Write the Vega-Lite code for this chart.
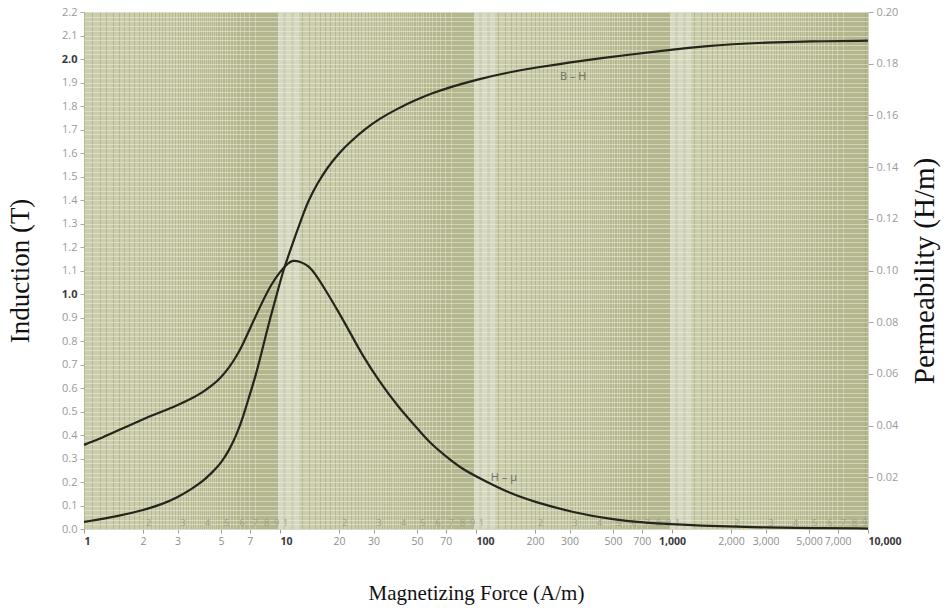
{
  "$schema": "https://vega.github.io/schema/vega-lite/v6.json",
  "width": 784,
  "height": 517,
  "autosize": {"type": "none"},
  "padding": {"left": 84, "top": 12, "right": 78, "bottom": 86},
  "background": "white",
  "config": {"view": {"fill": "#cbcdad", "stroke": null}, "font": "Open Sans"},
  "datasets": {
    "bh": [
      {"H": 1, "B": 0.03}, {"H": 1.5, "B": 0.055}, {"H": 2, "B": 0.08}, {"H": 2.5, "B": 0.105},
      {"H": 3, "B": 0.135}, {"H": 3.5, "B": 0.168}, {"H": 4, "B": 0.2}, {"H": 4.5, "B": 0.24},
      {"H": 5, "B": 0.28}, {"H": 5.5, "B": 0.335}, {"H": 6, "B": 0.4}, {"H": 6.5, "B": 0.48},
      {"H": 7, "B": 0.57}, {"H": 7.5, "B": 0.65}, {"H": 8, "B": 0.74}, {"H": 8.5, "B": 0.83},
      {"H": 9, "B": 0.91}, {"H": 9.5, "B": 0.98}, {"H": 10, "B": 1.05}, {"H": 10.5, "B": 1.11},
      {"H": 11, "B": 1.16}, {"H": 12, "B": 1.25}, {"H": 13, "B": 1.33}, {"H": 14, "B": 1.4},
      {"H": 15.5, "B": 1.47}, {"H": 17.5, "B": 1.54}, {"H": 20, "B": 1.6}, {"H": 23, "B": 1.65},
      {"H": 27, "B": 1.7}, {"H": 32, "B": 1.745}, {"H": 40, "B": 1.79}, {"H": 50, "B": 1.828},
      {"H": 60, "B": 1.855}, {"H": 75, "B": 1.882}, {"H": 100, "B": 1.912}, {"H": 150, "B": 1.945},
      {"H": 200, "B": 1.963}, {"H": 300, "B": 1.985}, {"H": 430, "B": 2.003}, {"H": 600, "B": 2.018},
      {"H": 1000, "B": 2.04}, {"H": 1500, "B": 2.055}, {"H": 2000, "B": 2.063}, {"H": 3000, "B": 2.07},
      {"H": 5000, "B": 2.075}, {"H": 10000, "B": 2.078}
    ],
    "hmu": [
      {"H": 1, "mu": 0.03255}, {"H": 1.25, "mu": 0.03545}, {"H": 1.5, "mu": 0.03818}, {"H": 2, "mu": 0.04255},
      {"H": 2.5, "mu": 0.04545}, {"H": 3, "mu": 0.04791}, {"H": 3.5, "mu": 0.05027}, {"H": 4, "mu": 0.05273},
      {"H": 4.5, "mu": 0.05545}, {"H": 5, "mu": 0.05864}, {"H": 5.5, "mu": 0.06245}, {"H": 6, "mu": 0.06682},
      {"H": 6.5, "mu": 0.07182}, {"H": 7, "mu": 0.07727}, {"H": 8, "mu": 0.08682}, {"H": 9, "mu": 0.09455},
      {"H": 10, "mu": 0.09955}, {"H": 11, "mu": 0.10291}, {"H": 11.6, "mu": 0.10391}, {"H": 12.5, "mu": 0.10364},
      {"H": 14, "mu": 0.10182}, {"H": 15, "mu": 0.09909}, {"H": 17, "mu": 0.09273}, {"H": 20, "mu": 0.08364},
      {"H": 23, "mu": 0.07545}, {"H": 26.5, "mu": 0.06682}, {"H": 32, "mu": 0.05727}, {"H": 40, "mu": 0.04727},
      {"H": 50, "mu": 0.03909}, {"H": 58, "mu": 0.03336}, {"H": 70, "mu": 0.02818}, {"H": 85, "mu": 0.02318},
      {"H": 105, "mu": 0.01955}, {"H": 150, "mu": 0.01364}, {"H": 200, "mu": 0.01045}, {"H": 313, "mu": 0.00636},
      {"H": 500, "mu": 0.00364}, {"H": 700, "mu": 0.00255}, {"H": 1100, "mu": 0.00164}, {"H": 2000, "mu": 0.00091},
      {"H": 3000, "mu": 0.00064}, {"H": 5000, "mu": 0.00036}, {"H": 10000, "mu": 0.00018}
    ],
    "minor": [
      {"H": 2, "k": "2"}, {"H": 3, "k": "3"}, {"H": 4, "k": "4"}, {"H": 5, "k": "5"}, {"H": 6, "k": "6"}, {"H": 7, "k": "7"}, {"H": 8, "k": "8"}, {"H": 9, "k": "9"},
      {"H": 10, "k": "1"}, {"H": 20, "k": "2"}, {"H": 30, "k": "3"}, {"H": 40, "k": "4"}, {"H": 50, "k": "5"}, {"H": 60, "k": "6"}, {"H": 70, "k": "7"}, {"H": 80, "k": "8"}, {"H": 90, "k": "9"},
      {"H": 100, "k": "1"}, {"H": 200, "k": "2"}, {"H": 300, "k": "3"}, {"H": 400, "k": "4"}, {"H": 500, "k": "5"}, {"H": 600, "k": "6"}, {"H": 700, "k": "7"}, {"H": 800, "k": "8"}, {"H": 900, "k": "9"},
      {"H": 1000, "k": "1"}, {"H": 2000, "k": "2"}, {"H": 3000, "k": "3"}, {"H": 4000, "k": "4"}, {"H": 5000, "k": "5"}, {"H": 6000, "k": "6"}, {"H": 7000, "k": "7"}, {"H": 8000, "k": "8"}, {"H": 9000, "k": "9"}
    ],
    "bhlabel": [{"H": 268, "B": 1.923, "t": "B – H"}],
    "mulabel": [{"H": 119, "mu": 0.01977, "t": "H – μ"}]
  },
  "layer": [
    {
      "layer": [
        {
          "data": {"name": "minor"},
          "mark": {"type": "text", "align": "left", "baseline": "bottom", "dx": 3, "dy": -1, "fontSize": 9, "color": "#9d9d8c"},
          "encoding": {
            "x": {"field": "H", "type": "quantitative"},
            "y": {"datum": 0, "type": "quantitative"},
            "text": {"field": "k", "type": "nominal"}
          }
        },
        {
          "data": {"name": "bh"},
          "mark": {"type": "line", "color": "#25251c", "strokeWidth": 2.2, "interpolate": "basis"},
          "encoding": {
            "x": {
              "field": "H", "type": "quantitative",
              "scale": {"type": "log", "domain": [1, 10000], "nice": false},
              "axis": {
                "title": "Magnetizing Force (A/m)",
                "titleFont": "Liberation Serif", "titleFontSize": 21, "titleFontWeight": "normal", "titleColor": "#111",
                "titlePadding": 36,
                "values": [1,1.1,1.2,1.3,1.4,1.5,1.6,1.7,1.8,1.9,2,2.1,2.2,2.3,2.4,2.5,2.6,2.7,2.8,2.9,3,3.1,3.2,3.3,3.4,3.5,3.6,3.7,3.8,3.9,4,4.1,4.2,4.3,4.4,4.5,4.6,4.7,4.8,4.9,5,5.1,5.2,5.3,5.4,5.5,5.6,5.7,5.8,5.9,6,6.1,6.2,6.3,6.4,6.5,6.6,6.7,6.8,6.9,7,7.1,7.2,7.3,7.4,7.5,7.6,7.7,7.8,7.9,8,8.1,8.2,8.3,8.4,8.5,8.6,8.7,8.8,8.9,9,9.1,9.2,9.3,9.4,9.5,9.6,9.7,9.8,9.9,
                  10,11,12,13,14,15,16,17,18,19,20,21,22,23,24,25,26,27,28,29,30,31,32,33,34,35,36,37,38,39,40,41,42,43,44,45,46,47,48,49,50,51,52,53,54,55,56,57,58,59,60,61,62,63,64,65,66,67,68,69,70,71,72,73,74,75,76,77,78,79,80,81,82,83,84,85,86,87,88,89,90,91,92,93,94,95,96,97,98,99,
                  100,110,120,130,140,150,160,170,180,190,200,210,220,230,240,250,260,270,280,290,300,310,320,330,340,350,360,370,380,390,400,410,420,430,440,450,460,470,480,490,500,510,520,530,540,550,560,570,580,590,600,610,620,630,640,650,660,670,680,690,700,710,720,730,740,750,760,770,780,790,800,810,820,830,840,850,860,870,880,890,900,910,920,930,940,950,960,970,980,990,
                  1000,1100,1200,1300,1400,1500,1600,1700,1800,1900,2000,2100,2200,2300,2400,2500,2600,2700,2800,2900,3000,3100,3200,3300,3400,3500,3600,3700,3800,3900,4000,4100,4200,4300,4400,4500,4600,4700,4800,4900,5000,5100,5200,5300,5400,5500,5600,5700,5800,5900,6000,6100,6200,6300,6400,6500,6600,6700,6800,6900,7000,7100,7200,7300,7400,7500,7600,7700,7800,7900,8000,8100,8200,8300,8400,8500,8600,8700,8800,8900,9000,9100,9200,9300,9400,9500,9600,9700,9800,9900,10000],
                "labelExpr": "indexof([1,2,3,5,7,10,20,30,50,70,100,200,300,500,700,1000,2000,3000,5000,7000,10000], datum.value) >= 0 ? format(datum.value, ',') : ''",
                "labelOverlap": false,
                "labelFlush": false,
                "labelBound": false,
                "labelFontSize": 10.5,
                "labelPadding": 3,
                "labelAlign": {"condition": {"test": "indexof([1,10,100,10000], datum.value) >= 0", "value": "left"}, "value": "center"},
                "labelColor": {"condition": {"test": "indexof([1,10,100,1000,10000], datum.value) >= 0", "value": "#3a3a3a"}, "value": "#8f8f8f"},
                "labelFontWeight": {"condition": {"test": "indexof([1,10,100,1000,10000], datum.value) >= 0", "value": "bold"}, "value": "normal"},
                "tickSize": 4,
                "tickColor": "#9a9a9a",
                "tickOpacity": {"condition": {"test": "indexof([1,2,3,5,7,10,20,30,50,70,100,200,300,500,700,1000,2000,3000,5000,7000,10000], datum.value) >= 0", "value": 1}, "value": 0},
                "domain": true,
                "domainColor": "#d9d9c8",
                "grid": true,
                "gridColor": {"condition": {"test": "indexof([10,11,12,100,110,120,1000,1100,1200], datum.value) >= 0", "value": "#d8d9c4"}, "value": "#979b69"},
                "gridOpacity": {"condition": {"test": "indexof([10,11,12,100,110,120,1000,1100,1200], datum.value) >= 0", "value": 1}, "value": 0.7},
                "gridWidth": {"condition": {"test": "indexof([10,11,12,100,110,120,1000,1100,1200], datum.value) >= 0", "value": 5.5}, "value": 0.65}
              }
            },
            "y": {
              "field": "B", "type": "quantitative",
              "scale": {"domain": [0, 2.2], "nice": false, "zero": true},
              "axis": {
                "title": "Induction (T)",
                "titleFont": "Liberation Serif", "titleFontSize": 27, "titleFontWeight": "normal", "titleColor": "#111",
                "titlePadding": 27,
                "tickCount": 110,
                "labelExpr": "abs(datum.value * 10 - round(datum.value * 10)) < 0.001 ? format(datum.value, '.1f') : ''",
                "labelOverlap": false,
                "labelBound": false,
                "labelFlush": false,
                "labelFontSize": 11,
                "labelPadding": 3,
                "labelColor": {"condition": {"test": "abs(datum.value - 1) < 0.001 || abs(datum.value - 2) < 0.001", "value": "#3a3a3a"}, "value": "#9a9a9a"},
                "labelFontWeight": {"condition": {"test": "abs(datum.value - 1) < 0.001 || abs(datum.value - 2) < 0.001", "value": "bold"}, "value": "normal"},
                "tickSize": 4,
                "tickColor": "#a8a8a8",
                "tickOpacity": {"condition": {"test": "abs(datum.value * 10 - round(datum.value * 10)) < 0.001", "value": 1}, "value": 0},
                "domain": false,
                "grid": true,
                "gridColor": "#efefe2",
                "gridOpacity": 0.5,
                "gridWidth": 1
              }
            }
          }
        },
        {
          "data": {"name": "bhlabel"},
          "mark": {"type": "text", "align": "left", "baseline": "middle", "fontSize": 11, "color": "#6e6e64"},
          "encoding": {
            "x": {"field": "H", "type": "quantitative"},
            "y": {"field": "B", "type": "quantitative"},
            "text": {"field": "t", "type": "nominal"}
          }
        }
      ]
    },
    {
      "layer": [
        {
          "data": {"name": "hmu"},
          "mark": {"type": "line", "color": "#25251c", "strokeWidth": 2.2, "interpolate": "basis"},
          "encoding": {
            "x": {"field": "H", "type": "quantitative"},
            "y": {
              "field": "mu", "type": "quantitative",
              "scale": {"domain": [0, 0.2], "nice": false},
              "axis": {
                "orient": "right",
                "title": "Permeability (H/m)",
                "titleFont": "Liberation Serif", "titleFontSize": 29, "titleFontWeight": "normal", "titleColor": "#111",
                "titleAngle": 270,
                "titlePadding": 42,
                "values": [0.02, 0.04, 0.06, 0.08, 0.1, 0.12, 0.14, 0.16, 0.18, 0.2],
                "format": ".2f",
                "labelFontSize": 11,
                "labelColor": "#9a9a9a",
                "labelPadding": 3,
                "labelBound": false,
                "labelFlush": false,
                "tickSize": 5,
                "tickColor": "#a8a8a8",
                "domain": false,
                "grid": false
              }
            }
          }
        },
        {
          "data": {"name": "mulabel"},
          "mark": {"type": "text", "align": "left", "baseline": "middle", "fontSize": 11, "color": "#6e6e64"},
          "encoding": {
            "x": {"field": "H", "type": "quantitative"},
            "y": {"field": "mu", "type": "quantitative"},
            "text": {"field": "t", "type": "nominal"}
          }
        }
      ]
    }
  ],
  "resolve": {"scale": {"y": "independent"}}
}
